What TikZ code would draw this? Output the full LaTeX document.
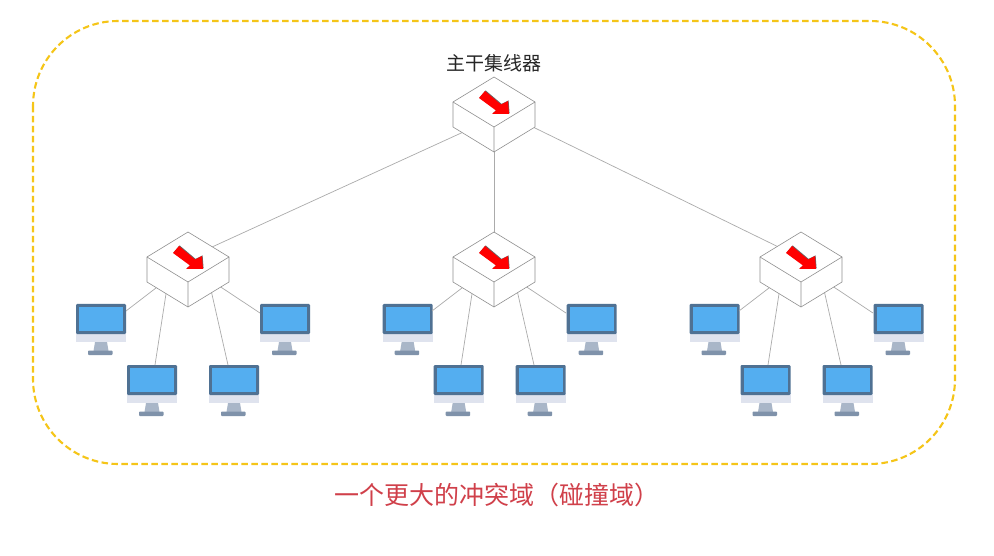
\documentclass[tikz,border=0pt]{standalone}
\usepackage{fontspec}
\newfontfamily\cjk{Noto Sans CJK SC}
\definecolor{framec}{HTML}{4F7193}
\definecolor{screenc}{HTML}{54AEF0}
\definecolor{chinc}{HTML}{DFE3EE}
\definecolor{neckc}{HTML}{A9B6C8}
\definecolor{basec}{HTML}{7F92AA}
\definecolor{dashc}{HTML}{F5C518}
\definecolor{wirec}{HTML}{ABABAB}
\definecolor{edgec}{HTML}{8F8F8F}
\definecolor{redtxt}{HTML}{D0404A}
\tikzset{
  wire/.style={draw=wirec,line width=0.7pt},
  boxedge/.style={draw=edgec,line width=0.6pt,line join=round},
  port/.style={inner sep=0pt,minimum size=0pt,outer sep=0pt},
  switchbox/.pic={
    \node[port] (-c) at (0,38) {};
    \node[port] (-t) at (0,26) {};
  },
  switchface/.pic={
    \path[boxedge,fill=white] (0,0) -- (41,25) -- (41,50) -- (0,75) -- (-41,50) -- (-41,25) -- cycle;
    \draw[boxedge] (-41,25) -- (0,50) -- (41,25) (0,50) -- (0,75);
    \fill[black!60,xshift=0.6pt,yshift=0.6pt] (-9,14) -- (7,27.5) -- (14,24) -- (15,37) -- (-2,37) -- (2,33.5) -- (-15,21) -- cycle;
    \fill[red] (-9,14) -- (7,27.5) -- (14,24) -- (15,37) -- (-2,37) -- (2,33.5) -- (-15,21) -- cycle;
  },
  monitor/.pic={
    \fill[chinc] (0,28) rectangle (50,38);
    \fill[framec,rounded corners=1.2pt] (0,0) rectangle (50,30);
    \fill[screenc] (3,3) rectangle (47,27);
    \fill[neckc] (19,38) -- (31,38) -- (32.5,47) -- (17.5,47) -- cycle;
    \fill[basec,rounded corners=0.8pt] (12,46.5) rectangle (36.5,51);
  }
}
\begin{document}
\begin{tikzpicture}[x=1pt,y=-1pt]
\useasboundingbox (0,0) rectangle (994,556);
\fill[white] (0,0) rectangle (994,556);
\draw[dashc,line width=2.1pt,dash pattern=on 6.5pt off 3.5pt,rounded corners=85pt] (33,21) rectangle (955,464);

\node[font=\cjk\fontsize{19}{20}\selectfont,text=black!85,inner sep=0pt] (hubtitle) at (494,63) {主干集线器};
\node[font=\cjk\fontsize{25}{28}\selectfont,text=redtxt,inner sep=0pt] (caption) at (496.5,495) {一个更大的冲突域（碰撞域）};

\pic (hub) at (494,77) {switchbox};
\foreach \n/\x/\m in {a/188/188,b/494/494.7,c/801/801.5}{
  \pic (\n) at (\x,232) {switchbox};
  \pic at (\m-112,304) {monitor};
  \pic at (\m-61,365) {monitor};
  \pic at (\m+21,365) {monitor};
  \pic at (\m+72,304) {monitor};
  \node[port] (\n p1) at (\x-62,311) {};
  \node[port] (\n p2) at (\x-33,365) {};
  \node[port] (\n p3) at (\x+40,365) {};
  \node[port] (\n p4) at (\x+72,313) {};
  \node[port] (\n q1) at (\x-6,268) {};
  \node[port] (\n q2) at (\x-18,268) {};
  \node[port] (\n q3) at (\x+18,268) {};
  \node[port] (\n q4) at (\x+4,268) {};
  \draw[wire] (\n q1) -- (\n p1);
  \draw[wire] (\n q2) -- (\n p2);
  \draw[wire] (\n q3) -- (\n p3);
  \draw[wire] (\n q4) -- (\n p4);
}
\node[port] (huba) at (494,118) {};
\node[port] (hubc) at (494,108) {};
\draw[wire] (huba) -- (a-t);
\draw[wire] (hub-c) -- (b-c);
\draw[wire] (hubc) -- (c-t);

\pic at (494,77) {switchface};
\foreach \x in {188,494,801}{ \pic at (\x,232) {switchface}; }
\end{tikzpicture}
\end{document}
